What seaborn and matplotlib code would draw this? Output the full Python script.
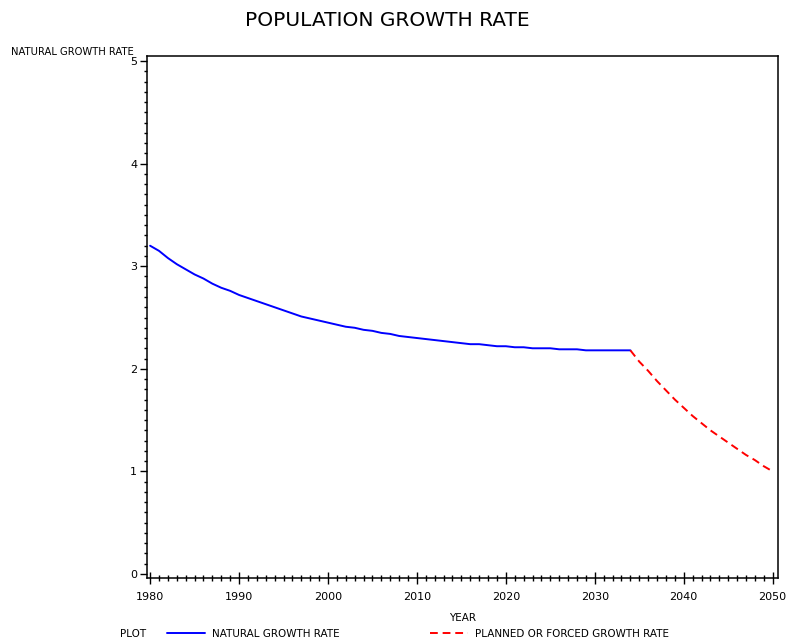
import numpy as np
import pandas as pd
import matplotlib
matplotlib.use("Agg")
import matplotlib.pyplot as plt
from matplotlib.ticker import MultipleLocator
import seaborn as sns

# natural growth rate (1980-2034)
natural_years = list(range(1980, 2035))
natural_rate = [3.20, 3.15, 3.08, 3.02, 2.97, 2.92, 2.88, 2.83, 2.79, 2.76,
                2.72, 2.69, 2.66, 2.63, 2.60, 2.57, 2.54, 2.51, 2.49, 2.47,
                2.45, 2.43, 2.41, 2.40, 2.38, 2.37, 2.35, 2.34, 2.32, 2.31,
                2.30, 2.29, 2.28, 2.27, 2.26, 2.25, 2.24, 2.24, 2.23, 2.22,
                2.22, 2.21, 2.21, 2.20, 2.20, 2.20, 2.19, 2.19, 2.19, 2.18,
                2.18, 2.18, 2.18, 2.18, 2.18]

# planned / forced growth rate (2034-2050)
planned_years = list(range(2034, 2051))
planned_rate = [2.18, 2.07, 1.98, 1.88, 1.79, 1.70, 1.62, 1.54, 1.47,
                1.40, 1.34, 1.28, 1.22, 1.16, 1.11, 1.05, 1.00]

x_ticks = list(range(1980, 2051, 10))
y_ticks = [0, 1, 2, 3, 4, 5]

df_nat = pd.DataFrame({"year": natural_years, "rate": natural_rate})
df_plan = pd.DataFrame({"year": planned_years, "rate": planned_rate})

sns.set_style("ticks")
plt.rcParams["font.family"] = ["DejaVu Sans"]
plt.rcParams["text.color"] = "black"
plt.rcParams["axes.labelcolor"] = "black"
plt.rcParams["xtick.color"] = "black"
plt.rcParams["ytick.color"] = "black"

fig = plt.figure(figsize=(7.88, 6.44), dpi=100)
ax = fig.add_axes([147 / 788, 1 - 578 / 644, (778 - 147) / 788, (578 - 56) / 644])

sns.lineplot(data=df_nat, x="year", y="rate", color="#0000ff", linewidth=1.4,
             ax=ax, legend=False)
sns.lineplot(data=df_plan, x="year", y="rate", color="#ff0000", linewidth=1.4,
             dashes=False, ax=ax, legend=False)
ax.lines[1].set_dashes((4, 2.5))

ax.set_xlim(1979.65, 2050.6)
ax.set_ylim(-0.04, 5.05)
ax.set_xticks(x_ticks)
ax.set_yticks(y_ticks)
ax.xaxis.set_minor_locator(MultipleLocator(1))
ax.yaxis.set_minor_locator(MultipleLocator(0.1))
ax.tick_params(axis="x", which="major", direction="inout", length=8, width=1,
               labelsize=8, pad=6)
ax.tick_params(axis="x", which="minor", direction="inout", length=4, width=1)
ax.tick_params(axis="y", which="major", direction="out", length=5, width=1,
               labelsize=8, pad=2)
ax.tick_params(axis="y", which="minor", direction="out", length=2.5, width=1)
for s in ax.spines.values():
    s.set_visible(True)
    s.set_linewidth(1.1)
    s.set_color("black")

ax.set_xlabel("YEAR", fontsize=7.5, labelpad=8)
ax.set_ylabel("")
fig.text(11 / 788, 1 - 52 / 644, "NATURAL GROWTH RATE", fontsize=7.2,
         ha="left", va="center")

fig.suptitle("POPULATION GROWTH RATE", x=387 / 788, y=1 - 20 / 644,
             va="center", fontsize=14.5)

# legend at the bottom
fig.text(120 / 788, 1 - 634 / 644, "PLOT", fontsize=7.5, ha="left", va="center")
fig.legend([ax.lines[0], ax.lines[1]],
           ["NATURAL GROWTH RATE", "PLANNED OR FORCED GROWTH RATE"],
           loc="center left", bbox_to_anchor=(163 / 788, 1 - 634 / 644),
           ncol=2, frameon=False, fontsize=7.5, handlelength=3.6,
           handletextpad=0.7, columnspacing=8.7, borderaxespad=0)

fig.savefig("out.png", dpi=100)
